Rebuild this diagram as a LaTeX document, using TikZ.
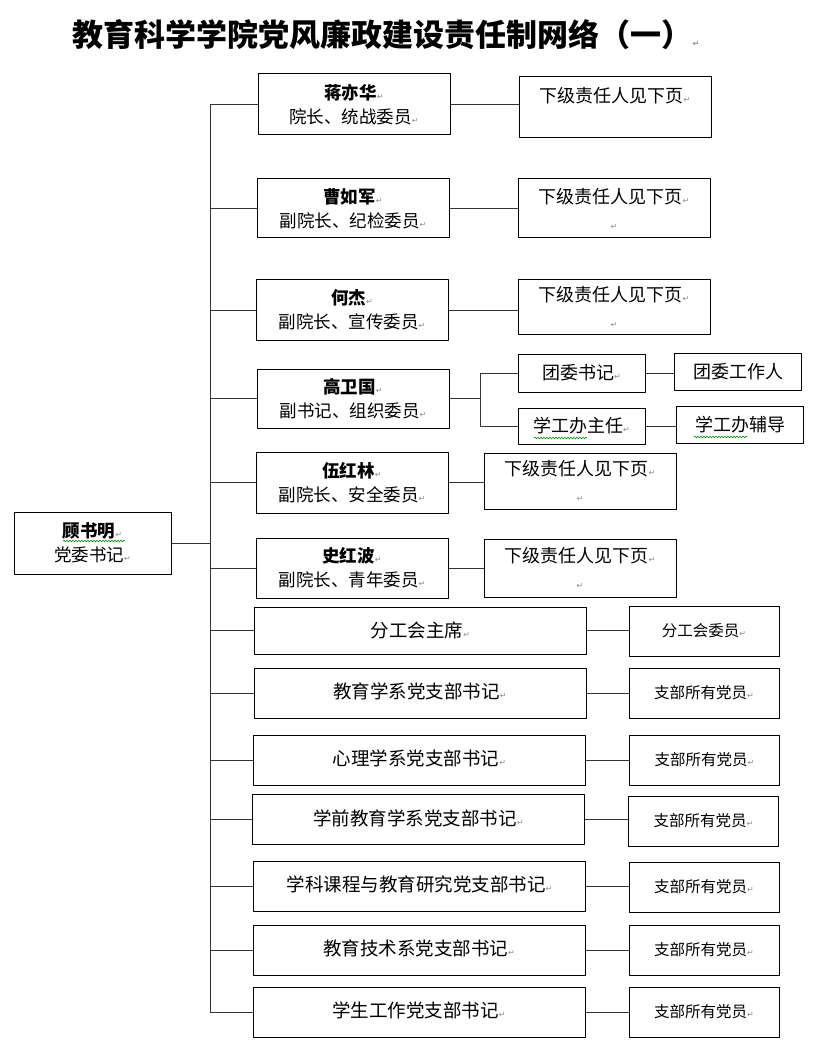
\documentclass[tikz,border=0pt]{standalone}
\usepackage{fontspec}
\setmainfont{Noto Sans CJK SC}
\newfontfamily\symfont{DejaVu Sans}
\usetikzlibrary{decorations.pathmorphing}
\newcommand{\ret}{{\symfont\fontsize{8}{8}\selectfont\textcolor{black!45}{↵}}}

\begin{document}
\begin{tikzpicture}[x=1pt, y=-1pt, line join=round,
	box/.style={draw, line width=1pt, inner sep=0pt, align=center, font=\fontsize{17.5}{24}\selectfont},
	person/.style={box, minimum width=192, minimum height=60},
	lower/.style={box, minimum width=192, minimum height=58, font=\fontsize{18}{26}\selectfont},
	branch/.style={box, minimum width=332, minimum height=50, font=\fontsize{18.5}{24}\selectfont},
	member/.style={box, minimum width=150, minimum height=50, font=\fontsize{15.5}{24}\selectfont},
	duty/.style={box, minimum width=127, minimum height=37, font=\fontsize{18}{24}\selectfont},
	link/.style={draw=black!80, line width=1pt},
	wavy/.style={draw=green!55!black, line width=0.6pt, decorate, decoration={snake, amplitude=0.8pt, segment length=3pt}}]
	\useasboundingbox (0,0) rectangle (822,1048);
	\node (title) at (386,35) {\fontsize{31}{33}\selectfont\bfseries 教育科学学院党风廉政建设责任制网络（一）\ret};
	\coordinate (trunk) at (210,0);
	\coordinate (fork) at (480,0);
	\node[box, minimum width=157, minimum height=62] (gu) at (92.5,543) {\textbf{顾书明}\ret\\党委书记\ret};
	\node[person, minimum height=61] (jiang) at (354,104.5) {\textbf{蒋亦华}\ret\\院长、统战委员\ret};
	\node[person, minimum height=59] (cao) at (353,208.5) {\textbf{曹如军}\ret\\副院长、纪检委员\ret};
	\node[person] (he) at (352,310) {\textbf{何杰}\ret\\副院长、宣传委员\ret};
	\node[person, minimum height=59] (gao) at (353,398.5) {\textbf{高卫国}\ret\\副书记、组织委员\ret};
	\node[person, minimum height=61] (wu) at (352,482.5) {\textbf{伍红林}\ret\\副院长、安全委员\ret};
	\node[person] (shi) at (352,568) {\textbf{史红波}\ret\\副院长、青年委员\ret};
	\node[branch, minimum height=47] (gonghui) at (420.5,630.5) {\raisebox{2pt}{分工会主席\ret}};
	\node[branch] (jyx) at (420,693) {\raisebox{4pt}{教育学系党支部书记\ret}};
	\node[branch] (xlx) at (419.5,760) {\raisebox{4pt}{心理学系党支部书记\ret}};
	\node[branch] (xqx) at (418.5,819.5) {\raisebox{4pt}{学前教育学系党支部书记\ret}};
	\node[branch] (kcx) at (419.5,886) {\raisebox{4pt}{学科课程与教育研究党支部书记\ret}};
	\node[branch] (jsx) at (419,950) {\raisebox{4pt}{教育技术系党支部书记\ret}};
	\node[branch] (xsx) at (419,1012) {\raisebox{4pt}{学生工作党支部书记\ret}};
	\node[lower, minimum height=61] (jiangx) at (615,107.5) {下级责任人见下页\ret\\\mbox{}};
	\node[lower, minimum height=59] (caox) at (614,208.5) {下级责任人见下页\ret\\\ret};
	\node[lower, minimum height=54] (hex) at (614,307) {下级责任人见下页\ret\\\ret};
	\node[lower, minimum height=56] (wux) at (580,481) {下级责任人见下页\ret\\\ret};
	\node[lower] (shix) at (580,568) {下级责任人见下页\ret\\\ret};
	\node[duty, minimum height=38] (tw) at (581.5,373) {团委书记\ret};
	\node[duty] (twg) at (738,371.5) {团委工作人};
	\node[duty, minimum height=36] (xg) at (581.5,426) {学工办主任\ret};
	\node[duty] (xgf) at (740,424.5) {学工办辅导};
	\node[member] (gonghuix) at (704,631) {\raisebox{3pt}{分工会委员\ret}};
	\node[member] (jyxm) at (704,693.5) {\raisebox{3pt}{支部所有党员\ret}};
	\node[member] (xlxm) at (704.5,760) {\raisebox{3pt}{支部所有党员\ret}};
	\node[member] (xqxm) at (703.5,821) {\raisebox{3pt}{支部所有党员\ret}};
	\node[member] (kcxm) at (704,887.5) {\raisebox{3pt}{支部所有党员\ret}};
	\node[member] (jsxm) at (704,950.5) {\raisebox{3pt}{支部所有党员\ret}};
	\node[member] (xsxm) at (704,1012.5) {\raisebox{3pt}{支部所有党员\ret}};
	\draw[link] (jiang.west -| trunk) -- (xsx.west -| trunk);
	\draw[link] (gu.east) -- (gu.east -| trunk);
	\foreach \n in {jiang,cao,he,gao,wu,shi,gonghui,jyx,xlx,xqx,kcx,jsx,xsx}
		\draw[link] (\n.west) -- (\n.west -| trunk);
	\foreach \a/\b in {jiang/jiangx,cao/caox,he/hex,wu/wux,shi/shix,gonghui/gonghuix,jyx/jyxm,xlx/xlxm,xqx/xqxm,kcx/kcxm,jsx/jsxm,xsx/xsxm,tw/twg,xg/xgf}
		\draw[link] (\a.east) -- (\a.east -| \b.west);
	\draw[link] (gao.east) -- (gao.east -| fork);
	\draw[link] (tw.west) -- (tw.west -| fork) -- (xg.west -| fork) -- (xg.west);
	\draw[wavy] (63,541) -- (125,541);
	\draw[wavy] (534,438) -- (587,438);
	\draw[wavy] (694,437) -- (747,437);
\end{tikzpicture}
\end{document}
